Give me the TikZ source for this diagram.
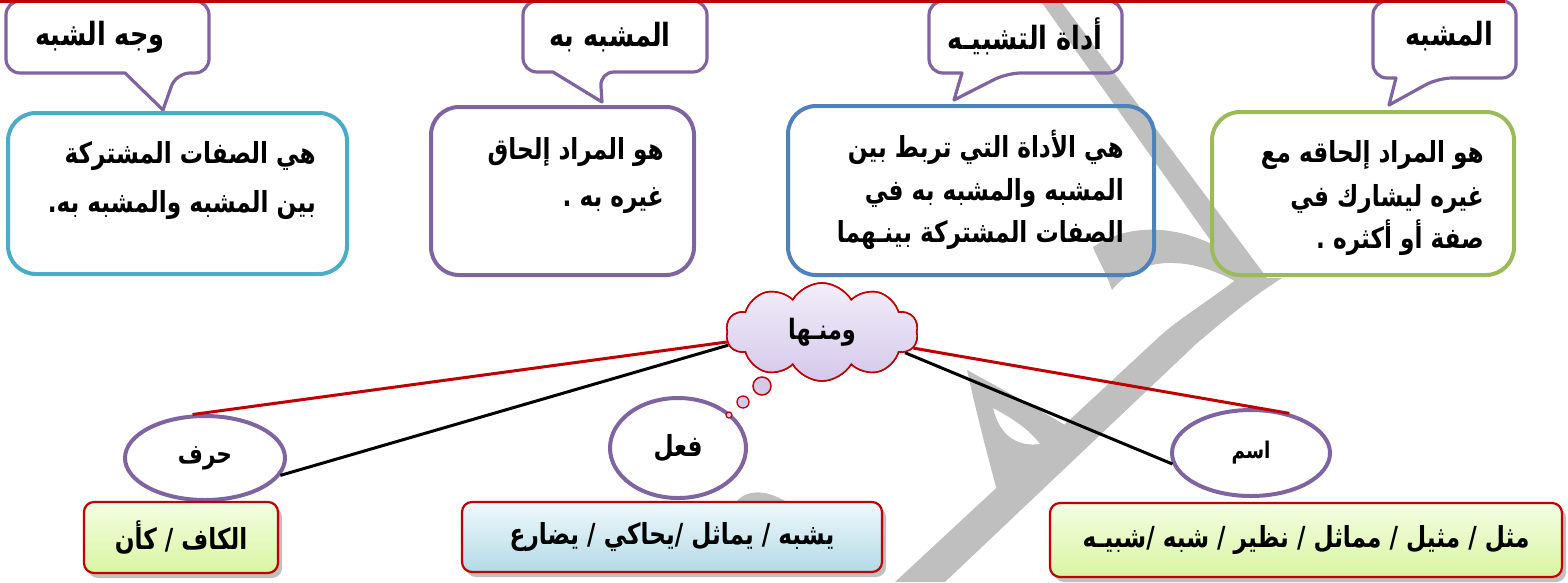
\documentclass[tikz,border=0pt]{standalone}
\usepackage{fontspec}
\newfontfamily\arfont[Script=Arabic, FakeStretch=0.8]{DejaVu Sans}
\TeXXeTstate=1
\usetikzlibrary{shapes.geometric,shapes.symbols,shadows}
\definecolor{cPurple}{HTML}{8064A2}
\definecolor{cCyan}{HTML}{4BACC6}
\definecolor{cBlue}{HTML}{4F81BD}
\definecolor{cGreen}{HTML}{9BBB59}
\definecolor{cRed}{HTML}{C00000}
\definecolor{wmgray}{HTML}{BFBFBF}
\definecolor{cloudTop}{HTML}{F2EEFA}
\definecolor{cloudBot}{HTML}{D5C8EA}
\definecolor{ygTop}{HTML}{F4FDE2}
\definecolor{ygBot}{HTML}{D9F5A2}
\definecolor{bTop}{HTML}{F0F9FC}
\definecolor{bBot}{HTML}{B3DAE5}
\tikzset{
  wm/.style={fill=wmgray},
  callout/.style={draw=cPurple, line width=3.2pt, line join=round},
  defbox/.style={rectangle, rounded corners=28pt, line width=4pt, inner sep=0},
  deftext/.style={font=\arfont\bfseries\fontsize{29}{33}\selectfont, anchor=base east, inner sep=0},
  title/.style={font=\arfont\bfseries\fontsize{32}{36}\selectfont, inner sep=0},
  ell/.style={ellipse, draw=cPurple, line width=4pt, fill=white, inner sep=0},
  link/.style={line width=3pt},
  cloudnode/.style={cloud, cloud puffs=10, cloud puff arc=120, aspect=2.1, draw=cRed, line width=1.6pt,
    top color=cloudTop, bottom color=cloudBot, minimum width=192pt, minimum height=98pt, inner sep=0},
  botbox/.style={rectangle, rounded corners=10pt, draw=cRed, line width=2.2pt,
    font=\arfont\bfseries\fontsize{29}{33}\selectfont,
    drop shadow={shadow xshift=4pt, shadow yshift=-5pt, fill=black!55, opacity=0.45}},
}
\begin{document}
\begin{tikzpicture}[x=1pt,y=-1pt]
\useasboundingbox (0,0) rectangle (1568,582);

% watermark
\fill[wm] (1040,0) -- (1060,0) -- (1270,282) -- (1240,282) -- cycle;
\fill[wm] (1238,278) .. controls (1210,300) and (1180,318) .. (1160,336) -- (895,582) -- (945,582)
  -- (1195,345) .. controls (1230,315) and (1255,295) .. (1282,278) -- cycle;
\fill[wm] (1093,247) .. controls (1140,215) and (1210,228) .. (1262,280) -- (1240,284)
  .. controls (1190,255) and (1140,255) .. (1112,290)
  .. controls (1105,270) and (1097,258) .. (1093,247) -- cycle;
\fill[wm, even odd rule] (967,370) .. controls (1000,388) and (1040,410) .. (1070,428) -- (1010,497)
  .. controls (1003,499) and (999,497) .. (998,494)
  .. controls (990,465) and (978,420) .. (967,370) -- cycle
  (993,408) .. controls (1012,418) and (1030,430) .. (1040,444)
  .. controls (1020,447) and (1000,438) .. (993,408) -- cycle;
\fill[wm] (730,512) .. controls (738,490) and (765,482) .. (800,512) -- cycle;

% callouts
\draw[callout] (176,73) -- (163,110) -- (125,73) [rounded corners=14pt] -- (6,73) -- (6,1) -- (209,1) -- (209,73) -- cycle;
\draw[callout] (600,72) -- (602,102) -- (553,72) [rounded corners=14pt] -- (523,72) -- (523,1) -- (707,1) -- (707,72) -- cycle;
\draw[callout] (1007,73) -- (954,100) -- (962,73) [rounded corners=14pt] -- (929,73) -- (929,1) -- (1122,1) -- (1122,73) -- cycle;
\draw[callout] (1438,78) -- (1389,105) -- (1396,78) [rounded corners=14pt] -- (1373,78) -- (1373,1) -- (1516,1) -- (1516,78) -- cycle;
\node[title] (t1) at (100,37) {\beginR وجه الشبه\endR};
\node[title] (t2) at (610,37) {\beginR المشبه به\endR};
\node[title] (t3) at (1025,36) {\beginR أداة التشبيـه\endR};
\node[title] (t4) at (1449,36) {\beginR المشبه\endR};
\draw[cRed, line width=3.5pt] (0,1.5) -- (1505,1.5);

% definition boxes
\node[defbox, draw=cCyan, minimum width=339pt, minimum height=161pt] (d1) at (177.5,193.5) {};
\node[defbox, draw=cPurple, minimum width=263pt, minimum height=168pt] (d2) at (562.5,191) {};
\node[defbox, draw=cBlue, minimum width=366pt, minimum height=169pt] (d3) at (971,190.5) {};
\node[defbox, draw=cGreen, minimum width=302pt, minimum height=163pt] (d4) at (1363,193.5) {};

\node[deftext] (d1a) at (316,163) {\beginR هي الصفات المشتركة\endR};
\node[deftext] (d1b) at (316,212) {\beginR بين المشبه والمشبه به.\endR};
\node[deftext] (d2a) at (664,159) {\beginR هو المراد إلحاق\endR};
\node[deftext] (d2b) at (664,206) {\beginR غيره به .\endR};
\node[deftext] (d3a) at (1124,157) {\beginR هي الأداة التي تربط بين\endR};
\node[deftext] (d3b) at (1124,200) {\beginR المشبه والمشبه به في\endR};
\node[deftext] (d3c) at (1124,242) {\beginR الصفات المشتركة بينـهما\endR};
\node[deftext] (d4a) at (1484,162) {\beginR هو المراد إلحاقه مع\endR};
\node[deftext] (d4b) at (1484,206) {\beginR غيره ليشارك في\endR};
\node[deftext] (d4c) at (1484,248) {\beginR صفة أو أكثره .\endR};

% cloud and ellipses
\node[cloudnode] (cloud) at (822,332) {};
\node[ell, minimum width=160pt, minimum height=84pt, font=\arfont\bfseries\fontsize{27}{30}\selectfont] (harf) at (205,458) {\beginR حرف\endR};
\node[ell, minimum width=136pt, minimum height=100pt, font=\arfont\bfseries\fontsize{29}{33}\selectfont] (feel) at (678,448) {\beginR فعل\endR};
\node[ell, minimum width=158pt, minimum height=86pt, font=\arfont\bfseries\fontsize{23}{26}\selectfont] (ism) at (1251,453) {\raisebox{-4pt}{\beginR اسم\endR}};

\draw[link, cRed] (cloud.186) -- (harf.106);
\draw[link, black] (cloud.188) -- (harf.-13);
\draw[link, cRed] (cloud.-10) -- (ism.46);
\draw[link, black] (cloud.-14) -- (ism.188);
\node[cloudnode, font=\arfont\bfseries\fontsize{28}{31}\selectfont]
  (cloudtxt) at (822,332) {\beginR ومنـها\endR\hspace{22pt}};
\node[circle, draw=cRed, line width=1.5pt, fill=cloudBot, minimum size=18pt, inner sep=0] (b1) at (762,386) {};
\node[circle, draw=cRed, line width=1.3pt, fill=cloudBot, minimum size=12pt, inner sep=0] (b2) at (743,402) {};
\node[circle, draw=cRed, line width=1.2pt, fill=cloudBot, minimum size=6pt, inner sep=0] (b3) at (729,415) {};

% bottom boxes
\node[botbox, top color=ygTop, bottom color=ygBot, minimum width=194pt, minimum height=71pt] (k1) at (181,537.5) {\beginR الكاف / كأن\endR};
\node[botbox, top color=bTop, bottom color=bBot, minimum width=420pt, minimum height=70pt] (k2) at (672,537) {\beginR يشبه / يماثل /يحاكي / يضارع\endR};
\node[botbox, top color=ygTop, bottom color=ygBot, minimum width=512pt, minimum height=74pt] (k3) at (1306,540) {\beginR مثل / مثيل / مماثل / نظير / شبه /شبيـه\endR};
\end{tikzpicture}
\end{document}
